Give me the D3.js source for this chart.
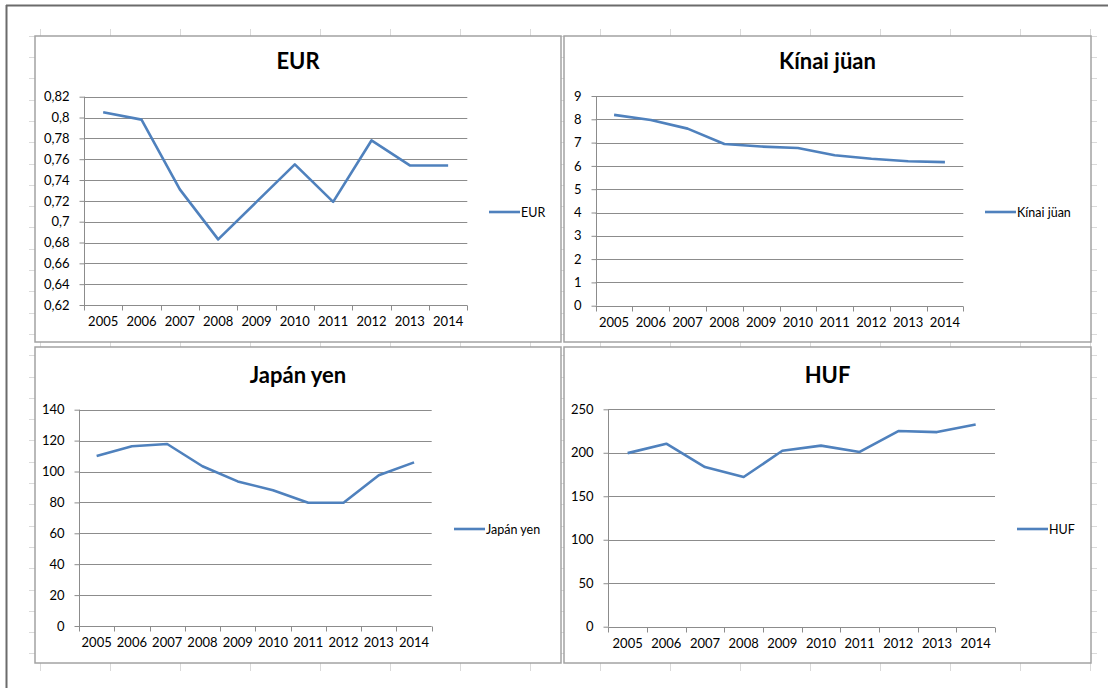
<!DOCTYPE html>
<html>
<head>
<meta charset="utf-8">
<script src="https://cdn.jsdelivr.net/npm/d3@7"></script>
<style>
  html, body { margin: 0; padding: 0; background: #fff; }
  svg { display: block; font-family: Lato, "Open Sans", sans-serif; }
</style>
</head>
<body>
<div id="vis"></div>
<script>
'use strict';

// data
var YEARS = ["2005", "2006", "2007", "2008", "2009", "2010", "2011", "2012", "2013", "2014"];
var EUR_VALUES = [0.805, 0.798, 0.731, 0.683, 0.719, 0.755, 0.719, 0.778, 0.754, 0.754];
var CNY_VALUES = [8.19, 7.97, 7.60, 6.94, 6.83, 6.77, 6.46, 6.31, 6.20, 6.16];
var JPY_VALUES = [110.1, 116.3, 117.8, 103.4, 93.6, 87.8, 79.8, 79.8, 97.6, 105.9];
var HUF_VALUES = [199.6, 210.4, 183.6, 172.1, 202.3, 208.2, 201.0, 225.0, 223.8, 232.6];
var TITLES = ["EUR", "Kínai jüan", "Japán yen", "HUF"];
var EUR_TICKS = [0.62, 0.64, 0.66, 0.68, 0.70, 0.72, 0.74, 0.76, 0.78, 0.80, 0.82];
var CNY_TICKS = [0, 1, 2, 3, 4, 5, 6, 7, 8, 9];
var JPY_TICKS = [0, 20, 40, 60, 80, 100, 120, 140];
var HUF_TICKS = [0, 50, 100, 150, 200, 250];

var width = 1108, height = 688;
var lineColor = "#4f81bd";
var gridColor = "#8c8c8c";

var svg = d3.select("#vis").append("svg")
    .attr("width", width)
    .attr("height", height);

// faint spreadsheet cells behind the charts
var sheet = svg.append("g").attr("stroke", "#dadada").attr("stroke-width", 1);
d3.range(40, 1098, 70).forEach(function(x) {
    sheet.append("line").attr("x1", x + 0.5).attr("x2", x + 0.5).attr("y1", 29).attr("y2", 671);
});
d3.range(14.4, 671, 21.3).forEach(function(y) {
    if (y < 29) return;
    var yy = Math.round(y) + 0.5;
    sheet.append("line").attr("x1", 29).attr("x2", 1097).attr("y1", yy).attr("y2", yy);
});

// outer window frame
svg.append("line").attr("x1", 6).attr("x2", width).attr("y1", 5.5).attr("y2", 5.5)
    .attr("stroke", "#6b6b6b").attr("stroke-width", 2);
svg.append("line").attr("x1", 6.5).attr("x2", 6.5).attr("y1", 5).attr("y2", height)
    .attr("stroke", "#6b6b6b").attr("stroke-width", 2);

function commaFmt(v) {
    return String(+v.toFixed(2)).replace(".", ",");
}

var charts = [
    { title: TITLES[0], values: EUR_VALUES, ticks: EUR_TICKS, fmt: commaFmt,
      box: [35, 36, 561, 342], plot: [84, 467.3, 96.7, 305], titleY: 69, legend: [489, 212] },
    { title: TITLES[1], values: CNY_VALUES, ticks: CNY_TICKS, fmt: String,
      box: [564, 36, 1091, 342], plot: [595.7, 963.3, 96, 305.7], titleY: 69, legend: [985, 212] },
    { title: TITLES[2], values: JPY_VALUES, ticks: JPY_TICKS, fmt: String,
      box: [35, 347, 561, 663], plot: [79, 431.7, 409.7, 626], titleY: 383, legend: [454, 529] },
    { title: TITLES[3], values: HUF_VALUES, ticks: HUF_TICKS, fmt: String,
      box: [564, 347, 1091, 663], plot: [608.3, 995, 409.3, 626.7], titleY: 383, legend: [1017, 529] }
];

function drawChart(c) {
    var g = svg.append("g");
    var b = c.box;

    g.append("rect")
        .attr("x", b[0]).attr("y", b[1])
        .attr("width", b[2] - b[0]).attr("height", b[3] - b[1])
        .attr("fill", "#fff")
        .attr("stroke", "#a3a3a3")
        .attr("stroke-width", 1.5);

    g.append("text")
        .attr("x", (b[0] + b[2]) / 2)
        .attr("y", c.titleY)
        .attr("text-anchor", "middle")
        .style("font-size", "22px")
        .style("font-weight", "bold")
        .text(c.title);

    var x = d3.scaleBand()
        .domain(YEARS)
        .range([c.plot[0], c.plot[1]])
        .padding(0);
    var y = d3.scaleLinear()
        .domain([c.ticks[0], c.ticks[c.ticks.length - 1]])
        .range([c.plot[3], c.plot[2]]);

    // horizontal gridlines
    g.append("g").selectAll("line")
        .data(c.ticks.slice(1))
        .enter().append("line")
        .attr("x1", c.plot[0]).attr("x2", c.plot[1])
        .attr("y1", function(d) { return Math.round(y(d)) + 0.5; })
        .attr("y2", function(d) { return Math.round(y(d)) + 0.5; })
        .attr("stroke", gridColor)
        .attr("stroke-width", 1);

    // y axis
    var yAxis = g.append("g")
        .attr("transform", "translate(" + (Math.round(c.plot[0]) + 0.5) + ",0)")
        .call(d3.axisLeft(y).tickValues(c.ticks).tickFormat(c.fmt).tickSize(5).tickPadding(10));
    yAxis.select(".domain").remove();
    yAxis.append("line")
        .attr("y1", c.plot[2]).attr("y2", c.plot[3])
        .attr("stroke", gridColor);
    yAxis.selectAll(".tick line").attr("stroke", gridColor);
    yAxis.selectAll("text")
        .attr("fill", "#000")
        .style("font-size", "13px")
        .style("font-family", "Lato, sans-serif");

    // x axis: labels centred in bands, tick marks between categories
    var xAxis = g.append("g")
        .attr("transform", "translate(0," + (Math.round(c.plot[3]) + 0.5) + ")")
        .call(d3.axisBottom(x).tickSize(0).tickPadding(11));
    xAxis.select(".domain").remove();
    xAxis.append("line")
        .attr("x1", c.plot[0]).attr("x2", c.plot[1])
        .attr("stroke", gridColor);
    xAxis.selectAll(".tickmark")
        .data(YEARS.concat(["end"]))
        .enter().append("line")
        .attr("class", "tickmark")
        .attr("x1", function(d, i) { return Math.round(c.plot[0] + i * x.step()) + 0.5; })
        .attr("x2", function(d, i) { return Math.round(c.plot[0] + i * x.step()) + 0.5; })
        .attr("y1", 0).attr("y2", 5)
        .attr("stroke", gridColor);
    xAxis.selectAll("text")
        .attr("fill", "#000")
        .style("font-size", "13px")
        .style("font-family", "Lato, sans-serif");

    // the series line
    var line = d3.line()
        .x(function(d, i) { return x(YEARS[i]) + x.bandwidth() / 2; })
        .y(function(d) { return y(d); });
    g.append("path")
        .datum(c.values)
        .attr("d", line)
        .attr("fill", "none")
        .attr("stroke", lineColor)
        .attr("stroke-width", 2.6)
        .attr("stroke-linejoin", "round");

    // legend
    var lg = g.append("g").attr("transform", "translate(" + c.legend[0] + "," + c.legend[1] + ")");
    lg.append("line")
        .attr("x1", 0).attr("x2", 31)
        .attr("stroke", lineColor)
        .attr("stroke-width", 2.6);
    lg.append("text")
        .attr("x", 32)
        .attr("y", 4.5)
        .style("font-size", "12.5px")
        .text(c.title);
}

for (var i = 0; i < charts.length; i++) {
    drawChart(charts[i]);
}
</script>
</body>
</html>
